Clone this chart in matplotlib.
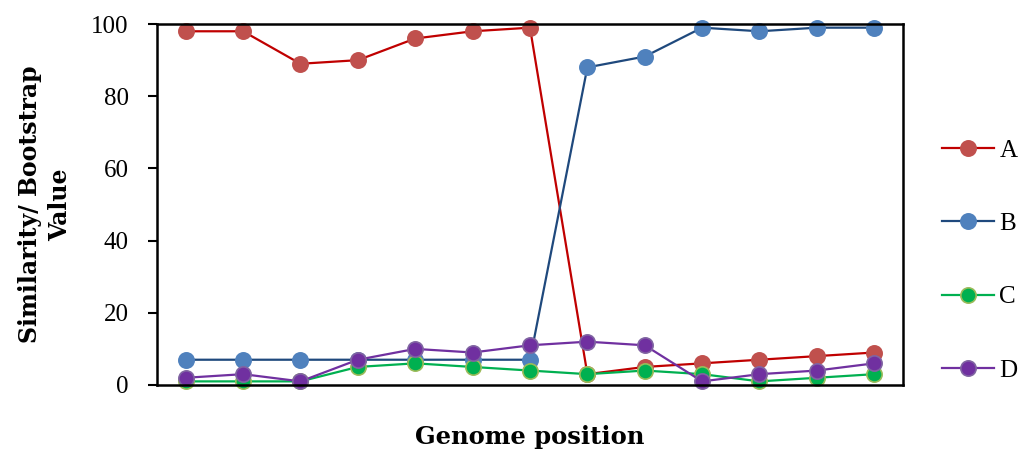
import matplotlib
matplotlib.use('Agg')
import matplotlib.pyplot as plt

plt.rcParams['font.family'] = ['Liberation Serif', 'DejaVu Serif']

positions = list(range(1, 14))
series_a = [98, 98, 89, 90, 96, 98, 99, 3, 5, 6, 7, 8, 9]
series_b = [7, 7, 7, 7, 7, 7, 7, 88, 91, 99, 98, 99, 99]
series_c = [1, 1, 1, 5, 6, 5, 4, 3, 4, 3, 1, 2, 3]
series_d = [2, 3, 1, 7, 10, 9, 11, 12, 11, 1, 3, 4, 6]
labels = ['A', 'B', 'C', 'D']
yticks = [0, 20, 40, 60, 80, 100]

# (line colour, marker fill, marker edge)
styles = [
    ('#C00000', '#C0504D', '#C0504D'),
    ('#1F497D', '#4F81BD', '#4F81BD'),
    ('#00B050', '#00B050', '#9BBB59'),
    ('#7030A0', '#7030A0', '#8064A2'),
]

fig = plt.figure(figsize=(10.27, 4.54), dpi=100)
ax = fig.add_axes([0.1529, 0.152, 0.7263, 0.795])

for vals, lab, (lc, fc, ec) in zip([series_a, series_b, series_c, series_d], labels, styles):
    ax.plot(positions, vals, color=lc, linewidth=1.6, marker='o', markersize=11,
            markerfacecolor=fc, markeredgecolor=ec, markeredgewidth=1.2, label=lab, clip_on=False)

ax.set_xlim(0.5, 13.5)
ax.set_ylim(0, 100)
ax.set_yticks(yticks)
ax.set_xticks([])
ax.tick_params(axis='y', direction='out', length=6.5, width=1.5, labelsize=18, pad=14)
for s in ax.spines.values():
    s.set_linewidth(1.8)

# the labels are set in a wider bold serif to match the reference's width
ax.set_ylabel('Similarity/ Bootstrap\nValue', fontsize=17, fontweight='bold',
              family='DejaVu Serif', linespacing=1.3)
ax.yaxis.set_label_coords(-0.114, 0.5)
ax.set_xlabel('Genome position', fontsize=17.5, fontweight='bold', family='DejaVu Serif')
ax.xaxis.set_label_coords(0.5, -0.111)

ax.legend(loc='center left', bbox_to_anchor=(1.0228, 0.345), frameon=False, fontsize=18,
          labelspacing=2.03, handlelength=2.08, handletextpad=0.2)

fig.savefig('out.png', dpi=100)
